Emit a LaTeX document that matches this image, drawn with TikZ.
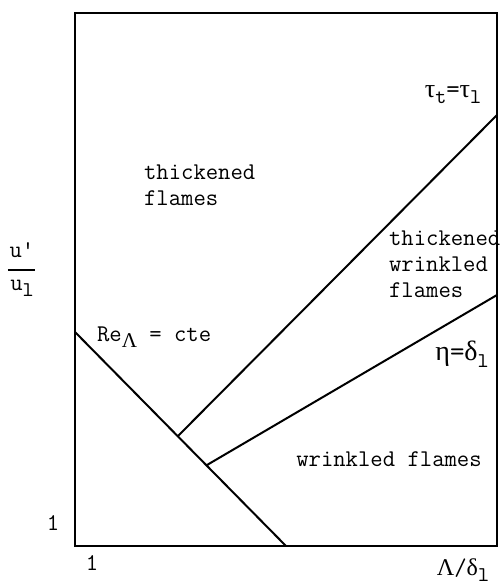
\documentclass[tikz,border=0pt]{standalone}
\usepackage{fontspec}
\newfontfamily\grk{Liberation Serif}
\usepackage{tkz-euclide}
\newcommand\lowsub[1]{\raisebox{-0.55ex}{\fontsize{10.5}{10.5}\selectfont #1}}

\begin{document}
\begin{tikzpicture}[x=0.5pt,y=0.5pt,font=\ttfamily\fontsize{12}{13}\selectfont]
  \useasboundingbox (0,0) rectangle (500,586);
  \tkzDefPoints{75/40/O,497/40/P,497/573/Q,75/573/S}
  \tkzDefPoints{75/254/R,286/40/T}
  \tkzDefPoints{178/150/A,497/471/B}
  \tkzDefPoints{207/121/C,497/291/D}

  \draw[line width=1.3pt] (S) -- (O) -- (P) -- (Q) -- cycle;
  \draw[line width=1pt] (R) -- (T) (A) -- (B) (C) -- (D);

  \node[anchor=west,align=left] (thick) at (137,401) {thickened\\flames};
  \node[anchor=west,align=left] (twf) at (382,322) {thickened\\wrinkled\\flames};
  \node (wf) at (389,127) {wrinkled flames};
  \node[anchor=west] (re) at (90,249) {Re\lowsub{\grk Λ} = cte};
  \node (eta) at (462,232) {\fontsize{14}{14}\selectfont{\grk η}={\grk δ}\lowsub{l}};
  \node (tau) at (453,491) {\fontsize{13}{13}\selectfont{\grk τ}\lowsub{t}={\grk τ}\lowsub{l}};

  \node (num) at (22,336) {u'};
  \node (den) at (22,298) {u\lowsub{l}};
  \draw[line width=0.8pt] (8,316) -- (35,316);

  \node (oney) at (53,63) {1};
  \node (onex) at (92,23) {1};
  \node (lam) at (463,16) {{\grk Λ}/{\grk δ}\lowsub{l}};
\end{tikzpicture}
\end{document}
